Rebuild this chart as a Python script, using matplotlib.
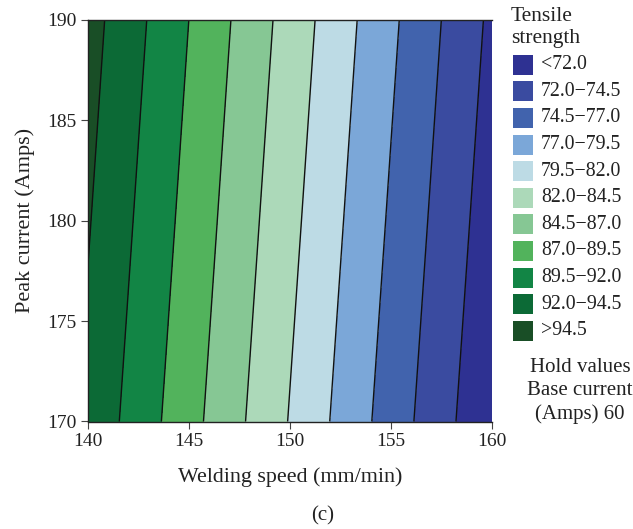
import numpy as np
import matplotlib
matplotlib.use("Agg")
import matplotlib.pyplot as plt
from matplotlib.patches import Rectangle

# Response surface: tensile strength over welding speed x peak current
speed = [140, 145, 150, 155, 160]          # mm/min
current = [170, 180, 190]                  # Amps
strength = [
    [93.86, 87.86, 81.86, 75.86, 69.86],   # 170 A
    [94.68, 88.68, 82.68, 76.68, 70.68],   # 180 A
    [95.49, 89.49, 83.49, 77.49, 71.49],   # 190 A
]

levels = [72.0, 74.5, 77.0, 79.5, 82.0, 84.5, 87.0, 89.5, 92.0, 94.5]
band_colors = [
    "#2e3192",  # <72.0
    "#3a4ba0",  # 72.0-74.5
    "#4163ad",  # 74.5-77.0
    "#7ba7d8",  # 77.0-79.5
    "#bddbe5",  # 79.5-82.0
    "#acd9b9",  # 82.0-84.5
    "#86c794",  # 84.5-87.0
    "#52b35c",  # 87.0-89.5
    "#128545",  # 89.5-92.0
    "#0c6a36",  # 92.0-94.5
    "#194e26",  # >94.5
]
band_labels = (["<%.1f" % levels[0]]
               + ["%.1f\u2212%.1f" % (a, b) for a, b in zip(levels[:-1], levels[1:])]
               + [">%.1f" % levels[-1]])

plt.rcParams["font.family"] = ["Liberation Serif", "DejaVu Serif"]
plt.rcParams["font.size"] = 14

W, H = 633, 529
fig = plt.figure(figsize=(W / 100, H / 100), dpi=100)


def fx(px):
    return px / W


def fy(py):
    return 1 - py / H


ax = fig.add_axes([fx(88), fy(421.5), fx(492) - fx(88), fy(20) - fy(421.5)])

X, Y = np.meshgrid(speed, current)
Z = np.array(strength)
ax.contourf(X, Y, Z, levels=levels, colors=band_colors, extend="both")
ax.contour(X, Y, Z, levels=levels, colors="#111111", linewidths=1.0)

ax.set_xlim(140, 160)
ax.set_ylim(170, 190)
ax.set_xticks([140, 145, 150, 155, 160])
ax.set_yticks([170, 175, 180, 185, 190])
ax.tick_params(direction="out", length=5, width=0.8, colors="#444444",
               labelcolor="#222222", labelsize=14, pad=3)
for side in ("left", "bottom", "top"):
    ax.spines[side].set_color("#222222")
    ax.spines[side].set_linewidth(1.0)
ax.spines["right"].set_visible(False)

ax.set_xlabel("Welding speed (mm/min)", fontsize=15.8, color="#222222", labelpad=13)
ax.set_ylabel("Peak current (Amps)", fontsize=16, color="#222222", labelpad=9)

# Legend for the contour bands, highest value at the bottom
fig.text(fx(511), fy(7), "Tensile\nstrength", ha="left", va="top",
         fontsize=15.5, color="#222222", linespacing=1.2)
n = len(band_colors)
for i in range(n):
    cy = 64.7 + i * 26.6
    fig.add_artist(Rectangle((fx(513), fy(cy + 10)), fx(20), 20 / H,
                             transform=fig.transFigure, facecolor=band_colors[i],
                             edgecolor="none"))
    fig.text(fx(541), fy(cy), band_labels[i], ha="left", va="center",
             fontsize=14.3, color="#222222")

fig.text(fx(580), fy(358), "Hold values\nBase current\n(Amps) 60",
         ha="center", va="top", fontsize=15, color="#222222", linespacing=1.3)

fig.text(fx(323), fy(516), "(c)", ha="center", va="center",
         fontsize=15, color="#222222")

fig.savefig("out.png", dpi=100)
